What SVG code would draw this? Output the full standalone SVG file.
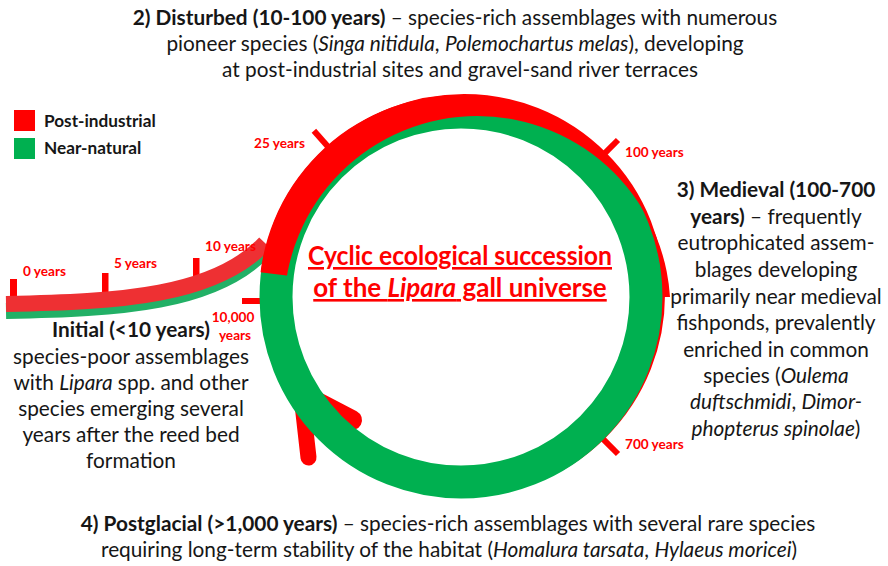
<svg xmlns="http://www.w3.org/2000/svg" width="888" height="566" viewBox="0 0 888 566">
<style>
text{font-family:Lato,"Liberation Sans",sans-serif;}
.t{font-size:20.8px;fill:#161616;text-anchor:middle;}
.b{font-weight:bold;}
.i{font-style:italic;}
.yr{font-size:13.6px;font-weight:bold;fill:#ff0000;}
.lg{font-size:17.2px;font-weight:bold;fill:#161616;}
.ttl{font-size:26px;font-weight:bold;fill:#ff0000;text-anchor:middle;text-decoration:underline;}
.tick{stroke:#ff0000;stroke-width:6;}
</style>
<defs>
<clipPath id="sect"><polygon points="461,297 64,248 64,-100 900,-100 900,297"/></clipPath>
</defs>

<g id="legend">
<rect x="14" y="110" width="21" height="21" fill="#ff0000"/>
<rect x="14" y="138" width="21" height="21" fill="#00b050"/>
<text class="lg" x="44" y="127">Post-industrial</text>
<text class="lg" x="44" y="154">Near-natural</text>
</g>

<g id="connectors">
<!-- tail ticks -->
<rect x="10" y="279" width="7" height="20" fill="#ff0000"/>
<rect x="102" y="273" width="6.5" height="22" fill="#ff0000"/>
<rect x="193" y="258" width="6.5" height="24" fill="#ff0000"/>
<!-- tail -->
<path d="M6,311 C120,309 215,303 265,250" fill="none" stroke="#22b066" stroke-width="16"/>
<path d="M6,304 C120,302 215,296 265,243" fill="none" stroke="#ee3033" stroke-width="16"/>
<!-- ring ticks -->
<line class="tick" x1="328.5" y1="147.2" x2="313.9" y2="130.7"/>
<line class="tick" x1="602.4" y1="155.6" x2="618" y2="140"/>
<line class="tick" x1="602.4" y1="438.4" x2="618" y2="454"/>
<rect x="242" y="298" width="18" height="6" fill="#ff0000"/>
<!-- bottom-left branches -->
<line x1="306" y1="396" x2="352" y2="420" stroke="#ff0000" stroke-width="20" stroke-linecap="round"/>
<line x1="302" y1="400" x2="308.5" y2="457.5" stroke="#ff0000" stroke-width="16" stroke-linecap="round"/>
</g>

<g id="ring">
<circle cx="464" cy="295" r="187.5" fill="none" stroke="#ff0000" stroke-width="27"/>
<circle cx="461" cy="297" r="185" fill="none" stroke="#00b050" stroke-width="33"/>
<path clip-path="url(#sect)" fill-rule="evenodd" fill="#ff0000" d="M259,297 a202,202 0 1,0 404,0 a202,202 0 1,0 -404,0 Z M284,309.2 a193.2,193.2 0 1,0 386.4,0 a193.2,193.2 0 1,0 -386.4,0 Z"/>
</g>

<g id="year-labels">
<text class="yr" x="23" y="276">0 years</text>
<text class="yr" x="114" y="268">5 years</text>
<text class="yr" x="205" y="251">10 years</text>
<text class="yr" x="254" y="148">25 years</text>
<text class="yr" x="625" y="157">100 years</text>
<text class="yr" x="625" y="449">700 years</text>
<text class="yr" x="233" y="322" text-anchor="middle">10,000</text>
<text class="yr" x="235" y="340" text-anchor="middle">years</text>
</g>

<g id="center-title">
<text class="ttl" x="460" y="265" textLength="304" lengthAdjust="spacingAndGlyphs">Cyclic ecological succession</text>
<text class="ttl" x="460" y="297">of the <tspan class="i">Lipara</tspan> gall universe</text>
</g>

<g id="stage-disturbed">
<text class="t" x="455" y="25"><tspan class="b">2) Disturbed (10-100 years)</tspan> – species-rich assemblages with numerous</text>
<text class="t" x="455" y="51">pioneer species (<tspan class="i">Singa nitidula</tspan>, <tspan class="i">Polemochartus melas</tspan>), developing</text>
<text class="t" x="460" y="77">at post-industrial sites and gravel-sand river terraces</text>
</g>

<g id="stage-medieval">
<text class="t" x="776" y="197"><tspan class="b">3) Medieval (100-700</tspan></text>
<text class="t" x="776" y="224"><tspan class="b">years)</tspan> – frequently</text>
<text class="t" x="776" y="250">eutrophicated assem-</text>
<text class="t" x="776" y="277">blages developing</text>
<text class="t" x="776" y="304">primarily near medieval</text>
<text class="t" x="776" y="330">fishponds, prevalently</text>
<text class="t" x="776" y="357">enriched in common</text>
<text class="t" x="776" y="383">species (<tspan class="i">Oulema</tspan></text>
<text class="t" x="776" y="409"><tspan class="i">duftschmidi</tspan>, <tspan class="i">Dimor-</tspan></text>
<text class="t" x="776" y="436"><tspan class="i">phopterus spinolae</tspan>)</text>
</g>

<g id="stage-initial">
<text class="t b" x="131" y="337">Initial (&lt;10 years)</text>
<text class="t" x="131" y="364">species-poor assemblages</text>
<text class="t" x="131" y="390">with <tspan class="i">Lipara</tspan> spp. and other</text>
<text class="t" x="131" y="416">species emerging several</text>
<text class="t" x="131" y="442">years after the reed bed</text>
<text class="t" x="131" y="468">formation</text>
</g>

<g id="stage-postglacial">
<text class="t" x="448" y="531"><tspan class="b">4) Postglacial (&gt;1,000 years)</tspan> – species-rich assemblages with several rare species</text>
<text class="t" x="449" y="557">requiring long-term stability of the habitat (<tspan class="i">Homalura tarsata</tspan>, <tspan class="i">Hylaeus moricei</tspan>)</text>
</g>
</svg>
